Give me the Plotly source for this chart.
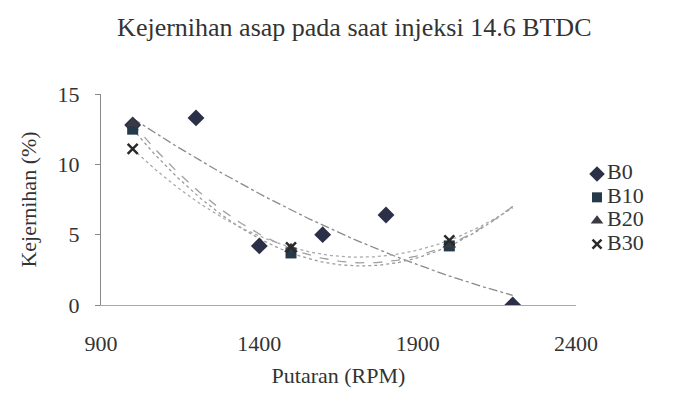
import numpy as np
import plotly.graph_objects as go

# Data
rpm_b0 = [1000, 1200, 1400, 1600, 1800, 2200]
b0 = [12.8, 13.3, 4.2, 5.0, 6.4, 0.0]
rpm_b = [1000, 1500, 2000]
b10 = [12.5, 3.7, 4.2]
b20 = [12.9, 4.0, 4.3]
b30 = [11.1, 4.1, 4.6]
series_names = ["B0", "B10", "B20", "B30"]
x_ticks = [900, 1400, 1900, 2400]
y_ticks = [0, 5, 10, 15]

font_family = "Liberation Serif, Times New Roman, serif"
txt = "#333333"

fig = go.Figure()

# polynomial (order 2) trendlines, as in the original spreadsheet chart
xs = np.linspace(1000, 2200, 200)
trend_styles = [
    (rpm_b0, b0, "#8a8a8a", "dashdot"),
    (rpm_b, b10, "#9a9a9a", "dot"),
    (rpm_b, b20, "#a0a0a0", "dash"),
    (rpm_b, b30, "#aaaaaa", "dot"),
]
for xv, yv, col, dash in trend_styles:
    coef = np.polyfit(xv, yv, 2)
    fig.add_trace(go.Scatter(x=xs, y=np.polyval(coef, xs), mode="lines",
                             line=dict(color=col, width=1.3, dash=dash),
                             showlegend=False, hoverinfo="skip"))

marker_defs = [
    (rpm_b0, b0, "diamond", "#2c2f48", 13),
    (rpm_b, b10, "square", "#24394a", 11),
    (rpm_b, b20, "triangle-up", "#3a3a42", 12),
    (rpm_b, b30, "x-thin", "#2a2a2a", 10),
]
for name, (xv, yv, sym, col, sz) in zip(series_names, marker_defs):
    mk = dict(symbol=sym, color=col, size=sz)
    if sym == "x-thin":
        mk["line"] = dict(color=col, width=2.5)
    fig.add_trace(go.Scatter(x=xv, y=yv, mode="markers", name=name, marker=mk,
                             showlegend=False))

# legend drawn as a small inset axis (keeps the tight spacing of the original)
for i, (name, (xv, yv, sym, col, sz)) in enumerate(zip(series_names, marker_defs)):
    mk = dict(symbol=sym, color=col, size=sz - 1)
    if sym == "x-thin":
        mk["line"] = dict(color=col, width=2.5)
    fig.add_trace(go.Scatter(x=[0], y=[i], mode="markers", marker=mk,
                             xaxis="x2", yaxis="y2", cliponaxis=False,
                             showlegend=False, hoverinfo="skip"))
    fig.add_trace(go.Scatter(x=[0.33], y=[i], mode="text", text=[name],
                             textposition="middle right", cliponaxis=False,
                             textfont=dict(size=22, color=txt, family=font_family),
                             xaxis="x2", yaxis="y2",
                             showlegend=False, hoverinfo="skip"))

fig.update_layout(
    width=694, height=404,
    margin=dict(l=93, r=0, t=86, b=107),
    paper_bgcolor="white", plot_bgcolor="white",
    font=dict(family=font_family, color=txt, size=22),
    title=dict(text="Kejernihan asap pada saat injeksi 14.6 BTDC",
               x=0.499, xanchor="center", y=0.952, yanchor="middle",
               font=dict(size=26, color=txt)),
    showlegend=False,
    xaxis=dict(
        domain=[0, 475 / 601],
        range=[900, 2400], tickvals=x_ticks, showgrid=False, zeroline=False,
        showline=True, linecolor="#a8a8a8", linewidth=1, ticks="",
        ticklabelstandoff=19, automargin=False,
        title=dict(text="Putaran (RPM)", standoff=12, font=dict(size=22, color=txt)),
        tickfont=dict(size=22, color=txt)),
    yaxis=dict(
        range=[0, 15], tickvals=y_ticks, showgrid=False, zeroline=False,
        showline=True, linecolor="#888888", linewidth=1, ticks="outside",
        ticklen=5, tickcolor="#888888", ticklabelstandoff=11, automargin=False,
        title=dict(text="Kejernihan (%)", standoff=14, font=dict(size=22, color=txt)),
        tickfont=dict(size=22, color=txt)),
    xaxis2=dict(domain=[0.80, 1.0], range=[-0.5, 3.45], visible=False, fixedrange=True),
    yaxis2=dict(domain=[0.289, 0.621], range=[3, 0], visible=False, fixedrange=True,
                anchor="x2"),
)

fig.write_html("out.html")
